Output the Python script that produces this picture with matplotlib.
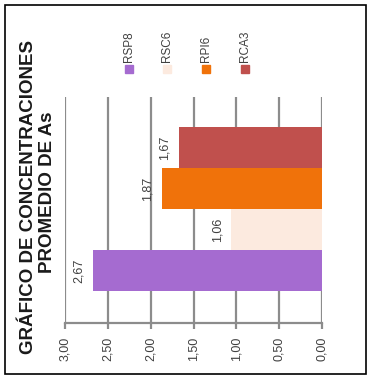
import matplotlib.pyplot as plt
from matplotlib.patches import Rectangle

series = ["RSP8", "RSC6", "RPI6", "RCA3"]
values = [2.67, 1.06, 1.87, 1.67]
colors = ["#A56BD0", "#FCEADF", "#F0720A", "#C0504D"]
ticks = [0, 0.5, 1.0, 1.5, 2.0, 2.5, 3.0]
tick_labels = ["0,00", "0,50", "1,00", "1,50", "2,00", "2,50", "3,00"]

plt.rcParams["font.family"] = ["Liberation Sans", "DejaVu Sans"]

fig = plt.figure(figsize=(3.71, 3.79), dpi=100)
ax = fig.add_axes([65 / 371, 1 - 323 / 379, 257 / 371, 226 / 379])

# bars (chart is rotated: values grow to the left)
pos = list(range(len(series)))
ax.barh(pos, values, height=1.0, color=colors, zorder=2)
for p, v in zip(pos, values):
    ax.annotate(f"{v:.2f}".replace(".", ","), (v, p), xytext=(-14, 0),
                textcoords="offset pixels", rotation=90, ha="center",
                va="center", fontsize=9, color="#404040")

ax.set_xlim(3.0, 0.0)
ax.set_ylim(-1.28, 4.23)
ax.set_xticks(ticks)
ax.set_xticklabels(tick_labels)
ax.set_yticks([])
ax.grid(axis="x", color="#8c8c8c", linewidth=1.6, zorder=0)
for s in ["top", "left", "right"]:
    ax.spines[s].set_visible(False)
ax.spines["bottom"].set_color("#8c8c8c")
ax.spines["bottom"].set_linewidth(1.6)
ax.tick_params(axis="x", labelrotation=90, length=4, width=1.6,
               color="#8c8c8c", labelsize=9, labelcolor="#404040", pad=6)

# legend
leg_x = [129, 167, 206, 245]
for name, c, x in zip(series, colors, leg_x):
    fig.patches.append(Rectangle(((x - 4) / 371, 1 - 73 / 379), 8 / 371, 8 / 379,
                                 transform=fig.transFigure, color=c))
    fig.text(x / 371, 1 - 62 / 379, name, rotation=90, ha="center", va="bottom",
             fontsize=8.5, color="#404040")

# title
fig.text(29 / 371, 1 - 197 / 379, "GRÁFICO DE CONCENTRACIONES", rotation=90,
         ha="center", va="center", fontsize=13.5, fontweight="bold", color="#1a1a1a")
fig.text(48 / 371, 1 - 192 / 379, "PROMEDIO DE As", rotation=90,
         ha="center", va="center", fontsize=13.5, fontweight="bold", color="#1a1a1a")

# outer frame
fig.patches.append(Rectangle((5 / 371, 5 / 379), 361 / 371, 369 / 379,
                             transform=fig.transFigure, fill=False,
                             edgecolor="black", linewidth=1.2))

fig.savefig("out.png", dpi=100)
